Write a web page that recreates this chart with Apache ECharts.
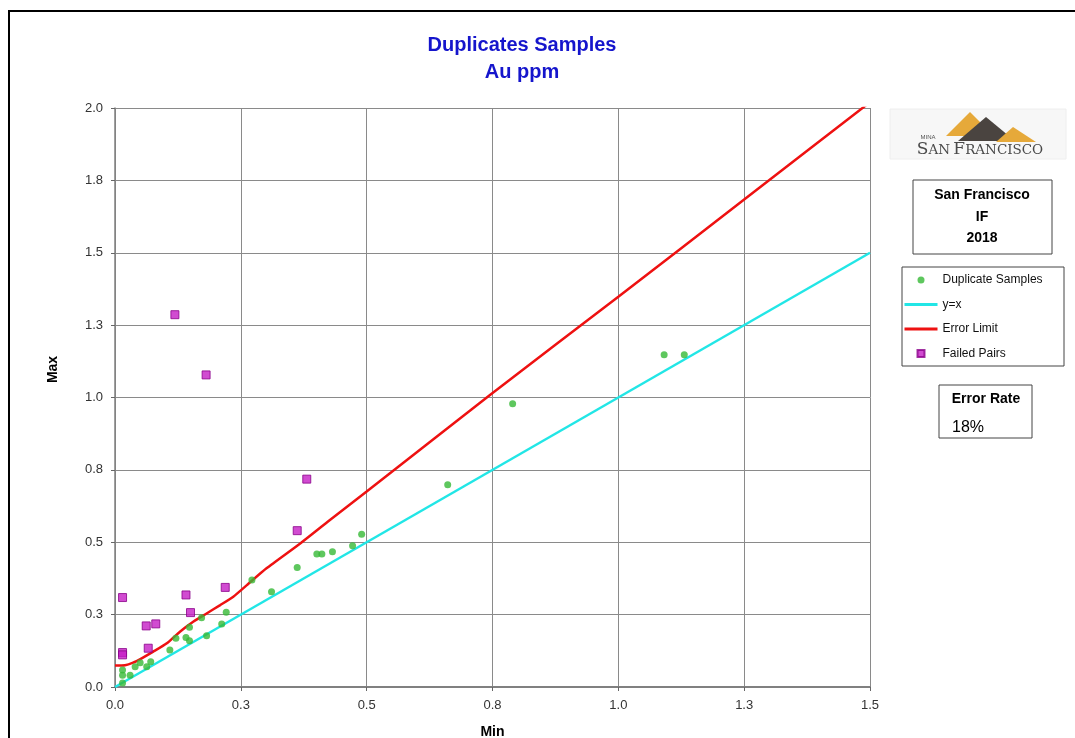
<!DOCTYPE html>
<html>
<head>
<meta charset="utf-8">
<title>Duplicates Samples</title>
<script src="https://cdn.jsdelivr.net/npm/echarts@6/dist/echarts.min.js"></script>
<style>
  html, body { margin: 0; padding: 0; background: #fff; }
  #chart { width: 1075px; height: 738px; }
</style>
</head>
<body>
<div id="chart"></div>
<script>
// duplicate pairs (min, max)
const dupMin = [0.015, 0.015, 0.015, 0.030, 0.040, 0.050, 0.063, 0.071, 0.109, 0.121, 0.141, 0.148, 0.148, 0.172, 0.182, 0.212, 0.221, 0.272, 0.311, 0.362, 0.401, 0.411, 0.432, 0.472, 0.490, 0.661, 0.790, 1.091, 1.131]
const dupMax = [0.059, 0.041, 0.014, 0.041, 0.070, 0.084, 0.070, 0.087, 0.128, 0.168, 0.171, 0.160, 0.206, 0.239, 0.177, 0.218, 0.258, 0.370, 0.329, 0.413, 0.459, 0.459, 0.467, 0.488, 0.528, 0.699, 0.978, 1.148, 1.148]

// failed pairs
const failMin = [0.015, 0.015, 0.015, 0.062, 0.081, 0.066, 0.141, 0.150, 0.219, 0.362, 0.119, 0.181, 0.381]
const failMax = [0.309, 0.119, 0.111, 0.211, 0.218, 0.134, 0.318, 0.257, 0.344, 0.540, 1.286, 1.078, 0.718]

// error limit curve
const limitMin = [0, 0.02, 0.036, 0.053, 0.076, 0.103, 0.129, 0.156, 0.182, 0.209, 0.235, 0.262, 0.301, 0.368, 0.427, 0.5, 0.745, 1.0, 1.25, 1.5]
const limitMax = [0.074, 0.075, 0.084, 0.099, 0.122, 0.151, 0.191, 0.226, 0.254, 0.283, 0.312, 0.352, 0.410, 0.496, 0.577, 0.675, 1.009, 1.348, 1.684, 2.02]

// y = x
const equalMin = [0, 1.5]
const equalMax = [0, 1.5]

const xTickLabels = ['0.0', '0.3', '0.5', '0.8', '1.0', '1.3', '1.5']
const yTickLabels = ['0.0', '0.3', '0.5', '0.8', '1.0', '1.3', '1.5', '1.8', '2.0']

const zip = (a, b) => a.map((v, i) => [v, b[i]])

const font = 'Liberation Sans, Arial, sans-serif'
const square = 'path://M0,0h10v10h-10z'

const chart = echarts.init(document.getElementById('chart'))

chart.setOption({
  animation: false,
  backgroundColor: '#fff',
  textStyle: { fontFamily: font },
  title: {
    text: 'Duplicates Samples\nAu ppm',
    left: 517,
    top: 27,
    textAlign: 'center',
    textStyle: {
      color: '#1515cc',
      fontSize: 20,
      fontWeight: 'bold',
      lineHeight: 27,
      fontFamily: font
    }
  },
  grid: {
    left: 115,
    top: 108,
    right: 205,
    bottom: 51,
    containLabel: false,
    outerBoundsMode: 'none'
  },
  legend: {
    orient: 'vertical',
    left: 903,
    top: 274,
    padding: 0,
    itemWidth: 33,
    itemHeight: 7,
    itemGap: 12.5,
    symbolKeepAspect: true,
    textStyle: { fontSize: 12, color: '#111', fontFamily: font },
    data: [
      { name: 'Duplicate Samples', icon: 'circle' },
      { name: 'y=x', itemStyle: { opacity: 0 }, lineStyle: { width: 3 } },
      { name: 'Error Limit', itemStyle: { opacity: 0 }, lineStyle: { width: 3 } },
      { name: 'Failed Pairs', icon: square }
    ]
  },
  xAxis: {
    type: 'value',
    min: 0,
    max: 1.5,
    interval: 0.25,
    name: 'Min',
    nameLocation: 'middle',
    nameGap: 38,
    nameTextStyle: { fontSize: 14, fontWeight: 'bold', color: '#000' },
    axisLine: { lineStyle: { color: '#808080', width: 2 } },
    axisTick: { show: true, length: 4, lineStyle: { color: '#666' } },
    axisLabel: {
      fontSize: 13,
      color: '#333',
      margin: 12,
      formatter: (v, i) => xTickLabels[i]
    },
    splitLine: { show: true, lineStyle: { color: '#8a8a8a', width: 1 } }
  },
  yAxis: {
    type: 'value',
    min: 0,
    max: 2.0,
    interval: 0.25,
    name: 'Max',
    nameLocation: 'middle',
    nameGap: 55,
    nameRotate: 90,
    nameTextStyle: { fontSize: 14, fontWeight: 'bold', color: '#000', padding: [0, 0, 0, 56] },
    axisLine: { show: true, lineStyle: { color: '#808080', width: 1.5 } },
    axisTick: { show: true, length: 4, lineStyle: { color: '#666' } },
    axisLabel: {
      fontSize: 13,
      color: '#333',
      margin: 12,
      formatter: (v, i) => yTickLabels[i]
    },
    splitLine: { show: true, lineStyle: { color: '#8a8a8a', width: 1 } }
  },
  series: [
    {
      name: 'y=x',
      type: 'line',
      data: zip(equalMin, equalMax),
      symbol: 'none',
      lineStyle: { color: '#22e6e6', width: 2.5 },
      itemStyle: { color: '#22e6e6' },
      z: 2
    },
    {
      name: 'Error Limit',
      type: 'line',
      data: zip(limitMin, limitMax),
      symbol: 'none',
      smooth: 0.2,
      lineStyle: { color: '#ee1111', width: 2.5 },
      itemStyle: { color: '#ee1111' },
      z: 3
    },
    {
      name: 'Duplicate Samples',
      type: 'scatter',
      data: zip(dupMin, dupMax),
      symbol: 'circle',
      symbolSize: 7,
      itemStyle: { color: '#36b936' },
      z: 4
    },
    {
      name: 'Failed Pairs',
      type: 'scatter',
      data: zip(failMin, failMax),
      symbol: 'rect',
      symbolSize: 8,
      itemStyle: { color: '#c61ec6', borderColor: '#8a008a', borderWidth: 1 },
      z: 5
    }
  ],
  graphic: [
    // outer frame
    {
      type: 'rect',
      shape: { x: 9, y: 11, width: 1200, height: 900 },
      style: { fill: 'none', stroke: '#000', lineWidth: 2 },
      silent: true
    },
    // logo
    {
      type: 'group',
      silent: true,
      children: [
        { type: 'rect', shape: { x: 890, y: 109, width: 176, height: 50 }, style: { fill: '#f7f7f7', stroke: '#eeeeee' } },
        { type: 'polygon', shape: { points: [[970, 112], [946, 136], [994, 136]] }, style: { fill: '#e6a93a' } },
        { type: 'polygon', shape: { points: [[986, 117], [958, 141], [1015, 141]] }, style: { fill: '#4a4440' } },
        { type: 'polygon', shape: { points: [[1013, 127], [996, 142], [1036, 142]] }, style: { fill: '#e6a93a' } },
        { type: 'text', style: { x: 928, y: 137, text: 'MINA', fontSize: 6, fill: '#555', align: 'center', verticalAlign: 'middle', fontFamily: font } },
        {
          type: 'text',
          style: {
            x: 980, y: 150,
            text: '{b|S}{s|AN} {b|F}{s|RANCISCO}',
            fill: '#4a4a4a',
            align: 'center', verticalAlign: 'middle',
            rich: {
              b: { fontSize: 17, fontFamily: 'DejaVu Serif, serif', fill: '#4a4a4a' },
              s: { fontSize: 13.5, fontFamily: 'DejaVu Serif, serif', fill: '#4a4a4a' }
            }
          }
        }
      ]
    },
    // site box
    {
      type: 'rect',
      shape: { x: 913, y: 180, width: 139, height: 74 },
      style: { fill: '#fff', stroke: '#444', lineWidth: 1 },
      silent: true
    },
    {
      type: 'text',
      silent: true,
      style: {
        x: 982, y: 217,
        text: 'San Francisco\nIF\n2018',
        fontSize: 14, fontWeight: 'bold', fill: '#000',
        lineHeight: 21.5,
        align: 'center', verticalAlign: 'middle',
        fontFamily: font
      }
    },
    // legend box
    {
      type: 'rect',
      shape: { x: 902, y: 267, width: 162, height: 99 },
      style: { fill: 'none', stroke: '#444', lineWidth: 1 },
      silent: true,
      z: -1
    },
    // error rate box
    {
      type: 'rect',
      shape: { x: 939, y: 385, width: 93, height: 53 },
      style: { fill: '#fff', stroke: '#444', lineWidth: 1 },
      silent: true
    },
    {
      type: 'text',
      silent: true,
      style: { x: 986, y: 399, text: 'Error Rate', fontSize: 14, fontWeight: 'bold', fill: '#000', align: 'center', verticalAlign: 'middle', fontFamily: font }
    },
    {
      type: 'text',
      silent: true,
      style: { x: 968, y: 428, text: '18%', fontSize: 16, fill: '#000', align: 'center', verticalAlign: 'middle', fontFamily: font }
    }
  ]
})
</script>
</body>
</html>
